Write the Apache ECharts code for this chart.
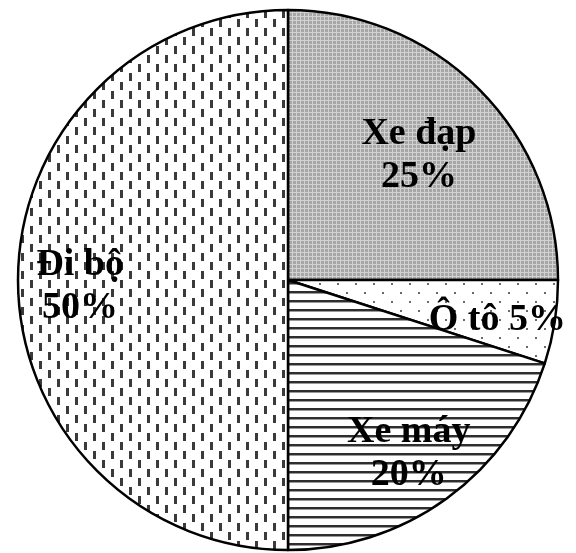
<!DOCTYPE html>
<html>
<head>
<meta charset="utf-8">
<script src="https://cdn.jsdelivr.net/npm/echarts@6/dist/echarts.min.js"></script>
<style>
  html, body { margin: 0; padding: 0; background: #fff; }
  #chart { width: 576px; height: 553px; }
</style>
</head>
<body>
<div id="chart"></div>
<script>
// Travel mode shares, listed clockwise from 12 o'clock
const categories = ['Xe đạp', 'Ô tô', 'Xe máy', 'Đi bộ'];
const shares = [25, 5, 20, 50];
// how far out (fraction of radius) each label sits along its slice's middle
const labelRadius = [0.686, 0.785, 0.761, 0.77];
// whether name and percentage share one line
const singleLine = [false, true, false, false];

const CX = 288, CY = 280, R = 270;
const LABEL_DROP = 7;

function makeTile(w, h, draw) {
  const c = document.createElement('canvas');
  c.width = w; c.height = h;
  const g = c.getContext('2d');
  draw(g);
  return { image: c, repeat: 'repeat' };
}

// fine grey mesh
const meshFill = makeTile(4, 4, g => {
  g.fillStyle = '#a6a6a6'; g.fillRect(0, 0, 4, 4);
  g.fillStyle = '#d2d2d2'; g.fillRect(0, 0, 4, 1); g.fillRect(0, 0, 1, 4);
});
// sparse staggered dots
const dotFill = makeTile(18, 18, g => {
  g.fillStyle = '#fff'; g.fillRect(0, 0, 18, 18);
  g.fillStyle = '#6a6a6a';
  g.fillRect(4, 4, 2, 2);
  g.fillRect(13, 13, 2, 2);
});
// horizontal stripes
const stripeFill = makeTile(4, 9, g => {
  g.fillStyle = '#fff'; g.fillRect(0, 0, 4, 9);
  g.fillStyle = '#2e2e2e'; g.fillRect(0, 3, 4, 2);
  g.fillStyle = '#9a9a9a'; g.fillRect(0, 5, 4, 1);
});
// staggered vertical dashes
const dashFill = makeTile(18, 18, g => {
  g.fillStyle = '#fff'; g.fillRect(0, 0, 18, 18);
  g.fillStyle = '#3a3a3a';
  g.fillRect(3, 1, 3, 8);
  g.fillRect(12, 10, 3, 8);
});
const fills = [meshFill, dotFill, stripeFill, dashFill];

// middle angle of each slice, in degrees counter-clockwise from 3 o'clock
const total = shares.reduce((a, b) => a + b, 0);
const midAngles = [];
let acc = 0;
shares.forEach(v => {
  midAngles.push(90 - 360 * (acc + v / 2) / total);
  acc += v;
});

const chart = echarts.init(document.getElementById('chart'));
chart.setOption({
  animation: false,
  backgroundColor: '#fff',
  series: [{
    type: 'pie',
    center: [CX, CY],
    radius: [0, R],
    startAngle: 90,
    clockwise: true,
    silent: true,
    itemStyle: { borderColor: '#000', borderWidth: 2.5 },
    label: {
      show: true,
      position: 'inside',
      align: 'center',
      verticalAlign: 'middle',
      fontFamily: '"Liberation Serif", "DejaVu Serif", serif',
      fontWeight: 'bold',
      fontSize: 38,
      lineHeight: 43,
      color: '#000',
      formatter: p => categories[p.dataIndex] + (singleLine[p.dataIndex] ? ' ' : '\n') + p.value + '%'
    },
    labelLine: { show: false },
    labelLayout: p => {
      const i = p.dataIndex;
      const a = midAngles[i] * Math.PI / 180;
      return {
        x: CX + R * labelRadius[i] * Math.cos(a),
        y: CY - R * labelRadius[i] * Math.sin(a) + LABEL_DROP,
        align: 'center',
        verticalAlign: 'middle'
      };
    },
    data: categories.map((name, i) => ({
      name,
      value: shares[i],
      itemStyle: { color: fills[i] }
    }))
  }]
});
</script>
</body>
</html>
